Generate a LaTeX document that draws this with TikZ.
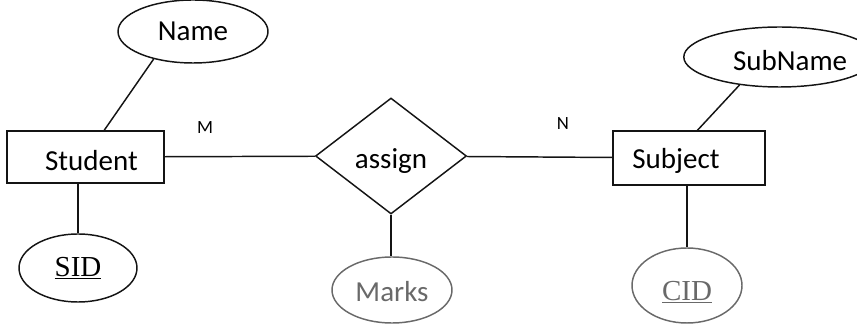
\documentclass[tikz,border=0pt]{standalone}
\usepackage{fontspec}
\setmainfont{Carlito}
\newfontfamily\keyfont{Liberation Serif}
\usepackage{tikz}
\usetikzlibrary{shapes.geometric}
\usetikzlibrary{positioning}
\definecolor{inkblack}{RGB}{20, 20, 20}
\definecolor{keygray}{RGB}{105, 105, 105}
\newcommand{\dropby}[2]{\raisebox{-#1}[\height][\depth]{#2}}

\begin{document}
\begin{tikzpicture}[x=0.75pt, y=-0.75pt,
        every node/.style={font=\fontsize{21.75}{26}\selectfont},
        entity/.style={draw=inkblack, line width=1.1pt, rectangle, inner sep=0pt},
        attrib/.style={draw=inkblack, line width=1.1pt, ellipse, inner sep=0pt},
        weakattrib/.style={draw=keygray, line width=1.1pt, ellipse, inner sep=0pt, text=keygray},
        relation/.style={draw=inkblack, line width=1.1pt, diamond, inner sep=0pt},
        link/.style={draw=inkblack, line width=1.1pt},
        card/.style={font=\fontsize{14}{16}\selectfont}]
            \useasboundingbox (0, 0) rectangle (857, 327);
            \node[entity,   minimum width=117.75pt, minimum height=39pt]   (student) at ( 85.5, 157) {\hspace*{9pt}\dropby{3pt}{Student}};
            \node[entity,   minimum width=114pt,    minimum height=40.5pt] (subject) at (689, 158) {\dropby{2pt}{Subject}\hspace*{19.5pt}};
            \node[relation, minimum width=113.25pt, minimum height=87pt]   (assign)  at (391, 156) {\dropby{4pt}{assign}};
            \node[attrib,   minimum width=112.5pt,  minimum height=47.25pt] (name)   at (193, 31.5) {Name};
            \node[attrib,   minimum width=117.75pt, minimum height=45pt]   (subname) at (779.5, 57) {\hspace*{16pt}\dropby{3pt}{SubName}};
            \node[attrib,   minimum width=88.5pt,   minimum height=51pt]   (sid)     at ( 78, 268) {\keyfont\underline{SID}};
            \node[weakattrib, minimum width=90pt,   minimum height=49.5pt] (marks)   at (392, 290) {\dropby{1pt}{Marks}};
            \node[weakattrib, minimum width=82.5pt, minimum height=56.25pt] (cid)    at (687, 285.5) {\keyfont\dropby{5pt}{\underline{CID}}};
            \node[card] (m) at (205, 128) {M};
            \node[card] (n) at (563, 124) {N};
            \draw[link] (name.215) -- (student.55);
            \draw[link] (subname.215) -- (subject.73);
            \draw[link] (student) -- (assign);
            \draw[link] (assign) -- (subject);
            \draw[link] (student.south -| sid.north) -- (sid.north);
            \draw[link] (assign.south) -- (assign.south |- marks.north);
            \draw[link] (cid.north |- subject.south) -- (cid.north);
        \end{tikzpicture}
\end{document}
